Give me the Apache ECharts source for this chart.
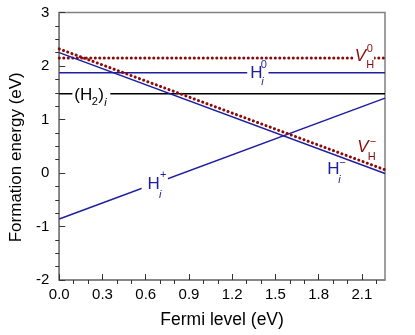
<!DOCTYPE html>
<html>
<head>
<meta charset="utf-8">
<script src="https://cdn.jsdelivr.net/npm/echarts@6/dist/echarts.min.js"></script>
<style>html,body{margin:0;padding:0;background:#fff}#c{width:415px;height:335px}</style>
</head>
<body>
<div id="c"></div>
<script>
// ---- data ----
const fermiLevel = [0, 2.26];
const vH0 = [2.15, 2.15];
const hi0 = [1.875, 1.875];
const h2i = [1.48, 1.48];
const hiPlus = [-0.86, 1.40];
const hiMinus = [2.25, -0.01];
const vHMinus = [2.32, 0.06];
const xMinorTicks = [0.1,0.2,0.4,0.5,0.7,0.8,1.0,1.1,1.3,1.4,1.6,1.7,1.9,2.0,2.2];
const yMinorTicks = [-1.75,-1.5,-1.25,-0.75,-0.5,-0.25,0.25,0.5,0.75,1.25,1.5,1.75,2.25,2.5,2.75];
// label anchors (data coords)
const labelNames = ['VH0','Hi0','H2i','HiPlus','HiMinus','VHMinus'];
const labelX = [2.05, 1.325, 0.105, 0.613, 1.859, 2.068];
const labelY = [2.187, 1.869, 1.445, -0.206, 0.062, 0.486];

const BLUE = '#1e1ea0', RED = '#8b0a0a', FONT = 'Liberation Sans, Arial, sans-serif';
const MAIN = 17, SMALL = 11;

function pairs(ys){ return fermiLevel.map((x,i)=>[x, ys[i]]); }

// label layout: parts relative to anchor (pixels)
const labelParts = {
  VH0:    {color: RED, parts: [
            {t:'V', it:true, main:true, dx:0, dy:0, pad:[1,8]},
            {t:'H', dx:11.5, dy:8.5},
            {t:'0', dx:12, dy:-7}]},
  Hi0:    {color: BLUE, parts: [
            {t:'H', main:true, dx:0, dy:0, pad:[3,6]},
            {t:'0', dx:10.5, dy:-8.3},
            {t:'i', it:true, dx:11, dy:8.7}]},
  H2i:    {color: '#000', parts: [
            {t:'(H', main:true, dx:0, dy:0, pad:[2,18]},
            {t:'2', dx:17.5, dy:6},
            {t:')', dx:24, dy:0},
            {t:'i', it:true, dx:30, dy:7}]},
  HiPlus: {color: BLUE, parts: [
            {t:'H', main:true, dx:0, dy:0, pad:[6,8]},
            {t:'+', dx:12.3, dy:-9},
            {t:'i', it:true, dx:11.5, dy:10.5}]},
  HiMinus:{color: BLUE, parts: [
            {t:'H', main:true, dx:0, dy:0},
            {t:'\u2212', dx:12, dy:-7},
            {t:'i', it:true, dx:11, dy:10.5}]},
  VHMinus:{color: RED, parts: [
            {t:'V', it:true, main:true, dx:0, dy:0},
            {t:'H', dx:10.5, dy:9.5},
            {t:'\u2212', dx:12.5, dy:-5.5}]}
};

const mainItems = [], subItems = [];
labelNames.forEach((n, k) => {
  const spec = labelParts[n];
  spec.parts.forEach(p => {
    const pl = p.pad ? p.pad[0] : 0, pr = p.pad ? p.pad[1] : 0;
    const item = {
      value: [labelX[k], labelY[k]],
      label: {
        show: true, position: 'inside', align: 'left', verticalAlign: 'middle',
        formatter: p.t, color: spec.color, fontFamily: FONT,
        fontSize: p.main || p.t === '(H' || p.t === ')' ? MAIN : SMALL,
        fontStyle: p.it ? 'italic' : 'normal',
        offset: [p.dx - pl, p.dy],
        backgroundColor: p.pad ? '#fff' : 'transparent',
        padding: [2, pr, 2, pl]
      }
    };
    (p.main ? mainItems : subItems).push(item);
  });
});

const chart = echarts.init(document.getElementById('c'), null, {renderer: 'canvas'});
const axisGrey = '#808080';
chart.setOption({
  animation: false,
  backgroundColor: '#fff',
  grid: {left: 53, right: 30, top: 12.5, bottom: 55, show: true, borderColor: axisGrey, borderWidth: 1.5, backgroundColor: 'transparent'},
  xAxis: [{
    type: 'value', min: 0, max: 2.26, interval: 0.3,
    name: 'Fermi level (eV)', nameLocation: 'middle', nameGap: 31,
    nameTextStyle: {fontSize: 17.5, fontFamily: FONT, color: '#000'},
    axisLine: {show: true, onZero: false, lineStyle: {color: axisGrey, width: 1.5}},
    axisTick: {show: true, inside: true, length: 6, lineStyle: {color: '#333', width: 1}},
    axisLabel: {fontSize: 15, fontFamily: FONT, color: '#000', margin: 7, showMaxLabel: false,
      formatter: v => v.toFixed(1)},
    splitLine: {show: false}
  }, {
    type: 'value', min: 0, max: 2.26, position: 'bottom',
    axisLine: {show: false, onZero: false},
    axisTick: {show: true, inside: false, length: 4, customValues: xMinorTicks, lineStyle: {color: '#333', width: 1}},
    axisLabel: {show: false}, splitLine: {show: false}
  }],
  yAxis: [{
    type: 'value', min: -2, max: 3, interval: 1,
    name: 'Formation energy (eV)', nameLocation: 'middle', nameGap: 32,
    nameTextStyle: {fontSize: 17, fontFamily: FONT, color: '#000', padding: [0, 22, 0, 0]},
    axisLine: {show: true, onZero: false, lineStyle: {color: axisGrey, width: 1.5}},
    axisTick: {show: true, inside: true, length: 6, lineStyle: {color: '#333', width: 1}},
    axisLabel: {fontSize: 15, fontFamily: FONT, color: '#000', margin: 10},
    splitLine: {show: false}
  }, {
    type: 'value', min: -2, max: 3, position: 'left',
    axisLine: {show: false, onZero: false},
    axisTick: {show: true, inside: false, length: 4, customValues: yMinorTicks, lineStyle: {color: '#333', width: 1}},
    axisLabel: {show: false}, splitLine: {show: false}
  }],
  series: [
    {name: 'VH0', type: 'line', data: pairs(vH0), symbol: 'none', silent: true,
      lineStyle: {color: RED, width: 3, type: [0.1, 4.4], cap: 'round'}},
    {name: 'Hi0', type: 'line', data: pairs(hi0), symbol: 'none', silent: true,
      lineStyle: {color: BLUE, width: 1.5}},
    {name: 'H2i', type: 'line', data: pairs(h2i), symbol: 'none', silent: true,
      lineStyle: {color: '#000', width: 1.5}},
    {name: 'HiPlus', type: 'line', data: pairs(hiPlus), symbol: 'none', silent: true,
      lineStyle: {color: BLUE, width: 1.5}},
    {name: 'HiMinus', type: 'line', data: pairs(hiMinus), symbol: 'none', silent: true,
      lineStyle: {color: BLUE, width: 1.5}},
    {name: 'VHMinus', type: 'line', data: pairs(vHMinus), symbol: 'none', silent: true,
      lineStyle: {color: RED, width: 3, type: [0.1, 4.4], cap: 'round'}},
    {name: 'mainLabels', type: 'scatter', data: mainItems, symbolSize: 0, silent: true, z: 5,
      itemStyle: {opacity: 1}},
    {name: 'subLabels', type: 'scatter', data: subItems, symbolSize: 0, silent: true, z: 6,
      itemStyle: {opacity: 1}}
  ]
});
</script>
</body>
</html>
